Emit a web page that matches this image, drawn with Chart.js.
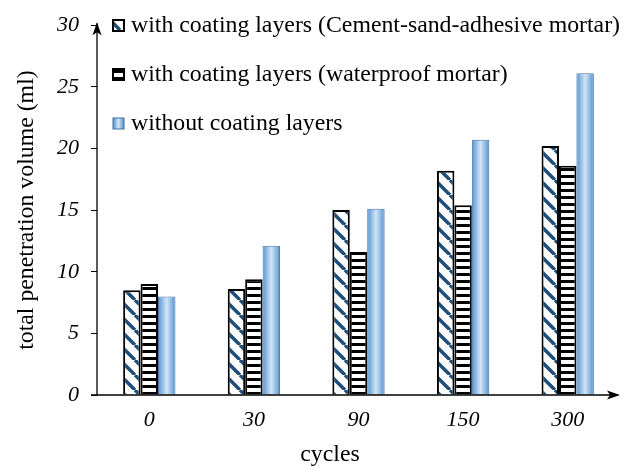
<!DOCTYPE html>
<html>
<head>
<meta charset="utf-8">
<script src="https://cdn.jsdelivr.net/npm/chart.js@4.4.1/dist/chart.umd.min.js"></script>
<style>
  html, body { margin: 0; padding: 0; background: #fff; }
  #wrap { width: 624px; height: 470px; }
</style>
</head>
<body>
<div id="wrap"><canvas id="chart" width="624" height="470"></canvas></div>
<script>
// data
const cycles = ["0", "30", "90", "150", "300"];
const cementSandMortar = [8.5, 8.6, 15.0, 18.2, 20.2];
const waterproofMortar = [9.0, 9.4, 11.6, 15.4, 18.6];
const withoutCoating = [8.0, 12.1, 15.1, 20.7, 26.1];
const seriesLabels = [
  "with coating layers (Cement-sand-adhesive mortar)",
  "with coating layers (waterproof mortar)",
  "without coating layers",
];
const yMax = 30;
const yStep = 5;

const SERIF = "'Liberation Serif', 'Times New Roman', serif";
const TEXT_SIZE = 23.8;
const TICK_SIZE = 22;

// motifs de remplissage
function diagPattern() {
  const n = 15;
  const c = document.createElement("canvas");
  c.width = n; c.height = n;
  const g = c.getContext("2d");
  g.fillStyle = "#fff";
  g.fillRect(0, 0, n, n);
  g.strokeStyle = "#1f4e79";
  g.lineWidth = 3.5;
  for (const dx of [-n, 0, n]) {
    g.beginPath();
    g.moveTo(dx, 0);
    g.lineTo(dx + n, n);
    g.stroke();
  }
  return g.createPattern(c, "repeat");
}

function hStripePattern() {
  const c = document.createElement("canvas");
  c.width = 8; c.height = 7;
  const g = c.getContext("2d");
  g.fillStyle = "#fff";
  g.fillRect(0, 0, 8, 7);
  g.fillStyle = "#000";
  g.fillRect(0, 0, 8, 3);
  return g.createPattern(c, "repeat");
}

function blueGradient(ctx, x0, x1) {
  const gr = ctx.createLinearGradient(x0, 0, x1, 0);
  gr.addColorStop(0, "#5293d3");
  gr.addColorStop(0.5, "#d3e5f6");
  gr.addColorStop(1, "#5293d3");
  return gr;
}

const diag = diagPattern();
const hstripe = hStripePattern();

// dégradé horizontal par barre pour la série bleue
const barGradient = {
  id: "barGradient",
  beforeDatasetDraw(chart, args) {
    if (args.index !== 2) return;
    const ctx = chart.ctx;
    args.meta.data.forEach((bar) => {
      const half = bar.width / 2;
      bar.options.backgroundColor = blueGradient(ctx, bar.x - half, bar.x + half);
    });
  },
};

// axes avec flèches, légende et titre de l'axe x
const decorations = {
  id: "decorations",
  afterDraw(chart) {
    const ctx = chart.ctx;
    const a = chart.chartArea;
    ctx.save();
    ctx.strokeStyle = "#000";
    ctx.fillStyle = "#000";
    ctx.lineWidth = 1.3;
    // x axis
    ctx.beginPath();
    ctx.moveTo(a.left - 6, a.bottom);
    ctx.lineTo(a.right - 2, a.bottom);
    ctx.stroke();
    ctx.beginPath();
    ctx.moveTo(a.right, a.bottom);
    ctx.lineTo(a.right - 13, a.bottom - 4.5);
    ctx.lineTo(a.right - 10, a.bottom);
    ctx.lineTo(a.right - 13, a.bottom + 4.5);
    ctx.closePath();
    ctx.fill();
    // y axis
    ctx.beginPath();
    ctx.moveTo(a.left, a.bottom);
    ctx.lineTo(a.left, a.top - 2);
    ctx.stroke();
    ctx.beginPath();
    ctx.moveTo(a.left, a.top - 3);
    ctx.lineTo(a.left - 4.5, a.top + 10);
    ctx.lineTo(a.left, a.top + 7);
    ctx.lineTo(a.left + 4.5, a.top + 10);
    ctx.closePath();
    ctx.fill();

    // legend
    const fills = [diag, hstripe, null];
    const rows = [25, 74, 123];
    ctx.font = TEXT_SIZE + "px " + SERIF;
    ctx.textBaseline = "middle";
    ctx.textAlign = "left";
    seriesLabels.forEach((label, i) => {
      const bx = 113, by = rows[i] - 5, s = 11;
      ctx.fillStyle = fills[i] || blueGradient(ctx, bx, bx + s);
      ctx.fillRect(bx, by, s, s);
      ctx.lineWidth = i === 2 ? 1 : 2;
      ctx.strokeStyle = i === 2 ? "#41719c" : "#000";
      ctx.strokeRect(bx, by, s, s);
      ctx.fillStyle = "#000";
      ctx.fillText(label, 131, rows[i] + 1);
    });

    // x title
    ctx.textAlign = "center";
    ctx.textBaseline = "middle";
    ctx.fillText("cycles", 330, 455);
    ctx.restore();
  },
};

new Chart(document.getElementById("chart"), {
  type: "bar",
  data: {
    labels: cycles,
    datasets: [
      {
        label: seriesLabels[0],
        data: cementSandMortar,
        backgroundColor: diag,
        borderColor: "#000",
        borderWidth: 2,
      },
      {
        label: seriesLabels[1],
        data: waterproofMortar,
        backgroundColor: hstripe,
        borderColor: "#000",
        borderWidth: 2,
      },
      {
        label: seriesLabels[2],
        data: withoutCoating,
        // fonction => options propres à chaque barre
        backgroundColor: () => "#5b9bd5",
        borderColor: "#4a76a8",
        borderWidth: 1,
      },
    ],
  },
  options: {
    responsive: false,
    animation: false,
    layout: { padding: { top: 17, right: 4, left: 0, bottom: 0 } },
    datasets: { bar: { barPercentage: 1, categoryPercentage: 0.5 } },
    plugins: {
      legend: { display: false },
      tooltip: { enabled: false },
    },
    scales: {
      x: {
        grid: { display: false, drawTicks: false },
        border: { display: false },
        ticks: {
          color: "#000",
          padding: 12,
          font: { family: SERIF, size: TICK_SIZE, style: "italic" },
        },
        afterFit(scale) { scale.height = 75; },
      },
      y: {
        min: 0,
        max: yMax,
        grid: { display: true, drawOnChartArea: false, drawTicks: true, tickLength: 6, color: "#000" },
        border: { display: false },
        ticks: {
          stepSize: yStep,
          color: "#000",
          padding: 12,
          font: { family: SERIF, size: TICK_SIZE, style: "italic" },
        },
        title: {
          display: true,
          text: "total penetration volume (ml)",
          color: "#000",
          font: { family: SERIF, size: TEXT_SIZE },
          padding: { top: 12, bottom: 10 },
        },
        afterFit(scale) { scale.width = 97; },
      },
    },
  },
  plugins: [barGradient, decorations],
});
</script>
</body>
</html>
